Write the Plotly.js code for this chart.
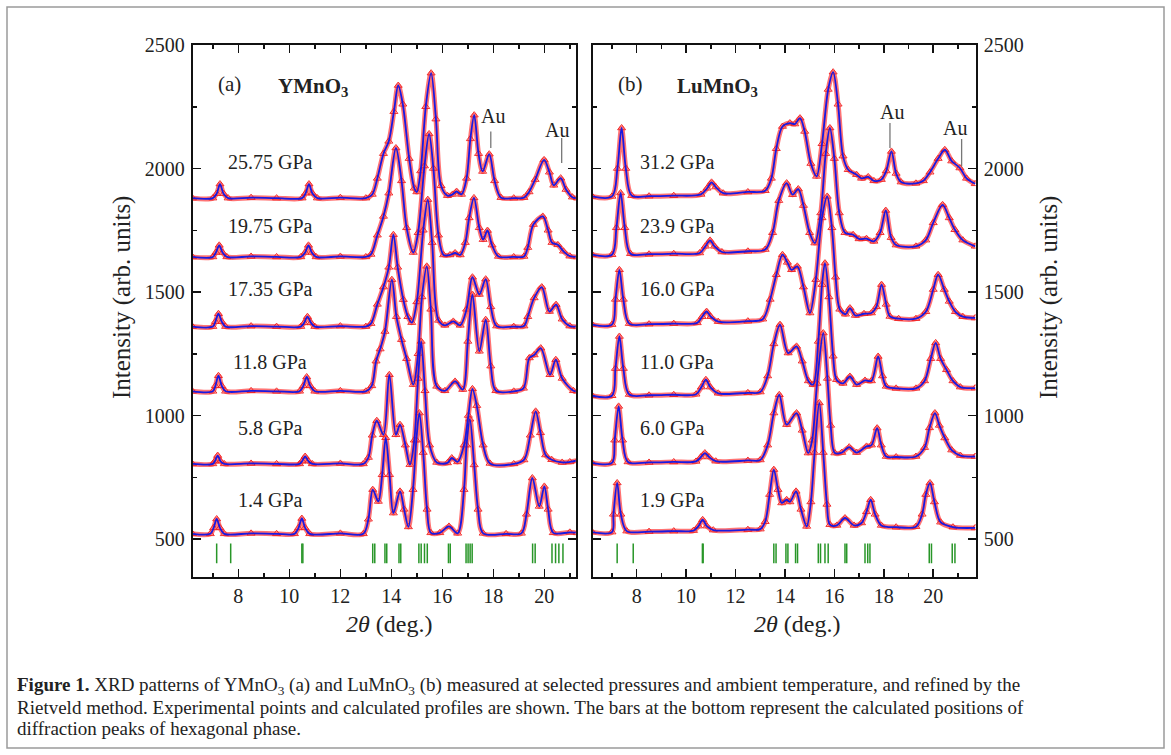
<!DOCTYPE html>
<html><head><meta charset="utf-8">
<script src="https://cdn.plot.ly/plotly-3.0.1.min.js"></script>
<style>html,body{margin:0;padding:0;background:#fff}#chart{width:1171px;height:755px}</style>
</head><body><div id="chart"></div>
<script>
// ---------- DATA ----------
// Panel (a) YMnO3
const ym2575_x = [6.2,7.0,7.15,7.28,7.42,7.6,8.5,9.5,10.5,10.64,10.77,10.9,11.1,12.0,13.0,13.25,13.45,13.69,13.9,14.1,14.27,14.45,14.7,14.9,15.0,15.15,15.35,15.56,15.75,15.95,16.2,16.4,16.56,16.75,16.95,17.1,17.25,17.42,17.58,17.84,18.05,18.3,18.8,19.2,19.4,19.64,19.99,20.2,20.37,20.64,20.85,21.1,21.3];
const ym2575_y = [1880,1880,1898,1937,1898,1880,1882,1880,1880,1900,1937,1900,1880,1882,1880,1895,1960,2060,2110,2230,2336,2260,2040,1920,1905,1990,2250,2386,2200,1930,1890,1895,1907,1895,1960,2120,2216,2060,1988,2058,1950,1882,1880,1882,1905,1955,2035,1985,1932,1961,1915,1884,1880];
const ym1975_x = [6.2,7.0,7.12,7.25,7.38,7.55,8.5,9.5,10.45,10.62,10.75,10.88,11.05,12.0,13.0,13.2,13.45,13.69,13.9,14.18,14.4,14.6,14.86,15.05,15.3,15.48,15.65,15.85,16.05,16.3,16.5,16.7,16.9,17.05,17.24,17.45,17.6,17.77,17.95,18.2,18.8,19.2,19.35,19.57,19.94,20.15,20.3,20.53,20.75,21.0,21.3];
const ym1975_y = [1642,1642,1660,1689,1660,1642,1644,1642,1642,1660,1689,1660,1642,1644,1642,1652,1730,1806,1900,2083,1950,1760,1660,1740,2010,2140,2000,1730,1650,1650,1658,1650,1700,1800,1881,1760,1712,1749,1690,1644,1642,1644,1680,1773,1806,1750,1700,1691,1665,1645,1642];
const ym1735_x = [6.2,7.0,7.1,7.22,7.35,7.5,8.5,9.5,10.45,10.58,10.71,10.85,11.0,12.0,13.0,13.2,13.45,13.69,13.9,14.08,14.25,14.47,14.65,14.8,15.0,15.25,15.43,15.6,15.85,16.1,16.43,16.7,16.95,17.18,17.45,17.7,17.9,18.13,18.8,19.2,19.35,19.6,19.9,20.2,20.46,20.7,21.0,21.3];
const ym1735_y = [1360,1360,1380,1412,1380,1360,1362,1360,1360,1375,1400,1375,1360,1362,1360,1372,1450,1520,1600,1732,1600,1469,1400,1376,1460,1750,1874,1700,1385,1365,1381,1365,1430,1560,1490,1552,1440,1362,1360,1362,1400,1476,1520,1421,1449,1390,1362,1360];
const ym118_x = [6.2,7.0,7.1,7.22,7.35,7.5,8.5,9.5,10.4,10.55,10.68,10.82,11.0,12.0,13.0,13.23,13.4,13.56,13.75,14.02,14.2,14.4,14.6,14.86,15.05,15.2,15.39,15.55,15.78,16.1,16.5,16.8,17.0,17.18,17.45,17.7,17.9,18.1,18.8,19.18,19.41,19.6,19.86,20.22,20.45,20.7,21.14,21.3];
const ym118_y = [1098,1098,1120,1161,1120,1098,1100,1098,1098,1120,1156,1120,1098,1100,1098,1120,1220,1269,1340,1550,1400,1307,1230,1125,1250,1480,1604,1430,1118,1100,1138,1105,1300,1490,1260,1388,1200,1100,1098,1110,1233,1245,1273,1165,1226,1150,1100,1098];
const ym58_x = [6.2,7.0,7.08,7.19,7.3,7.45,8.5,9.5,10.4,10.5,10.62,10.75,10.9,12.0,12.9,13.1,13.25,13.43,13.69,13.92,14.18,14.34,14.55,14.73,14.9,15.05,15.17,15.32,15.5,15.78,16.2,16.37,16.6,16.85,17.02,17.18,17.35,17.6,17.87,18.8,19.2,19.45,19.66,19.85,20.05,20.29,20.7,21.0,21.3];
const ym58_y = [804,804,815,838,815,804,806,804,804,815,834,815,804,806,804,830,920,979,922,1165,922,963,880,801,900,1150,1300,1100,880,810,808,828,812,880,1000,1108,1040,880,806,804,820,920,1017,930,840,821,810,812,818];
const ym14_x = [6.2,6.9,7.03,7.15,7.28,7.45,8.5,9.5,10.2,10.36,10.49,10.62,10.8,12.0,12.9,13.1,13.27,13.49,13.64,13.78,13.93,14.08,14.34,14.5,14.67,14.85,14.98,15.1,15.25,15.4,15.55,15.9,16.26,16.6,16.85,16.95,17.08,17.25,17.4,17.6,18.5,19.1,19.3,19.53,19.8,20.0,20.15,20.35,21.0,21.3];
const ym14_y = [521,521,545,581,545,521,523,521,521,545,583,545,521,523,521,580,700,652,760,910,760,605,693,620,549,700,900,1010,850,620,525,525,551,523,700,880,985,800,620,523,521,523,600,747,632,713,620,525,527,525];

// Panel (b) LuMnO3
const lu312_x = [6.2,7.0,7.22,7.39,7.56,7.8,8.5,9.5,10.6,10.85,11.03,11.2,11.5,12.5,13.2,13.45,13.65,13.9,14.2,14.4,14.61,14.8,15.05,15.28,15.5,15.75,15.95,16.15,16.35,16.56,16.9,17.1,17.37,17.6,17.9,18.1,18.31,18.5,18.7,19.3,19.6,19.87,20.2,20.47,20.75,21.08,21.35,21.7];
const lu312_y = [1887,1887,2000,2164,2000,1890,1888,1890,1895,1920,1944,1925,1900,1905,1910,1960,2080,2170,2184,2180,2204,2150,2020,1968,2100,2320,2390,2260,2050,1995,1975,1960,1966,1950,1955,1990,2069,1980,1945,1940,1950,1985,2040,2076,2030,2002,1960,1938];
const lu239_x = [6.2,7.0,7.18,7.35,7.52,7.75,8.5,9.5,10.55,10.78,10.97,11.15,11.45,12.5,13.2,13.5,13.75,14.07,14.31,14.54,14.75,15.0,15.21,15.45,15.65,15.82,16.0,16.2,16.43,16.76,17.0,17.3,17.6,17.85,18.08,18.3,18.5,19.3,19.7,20.0,20.38,20.65,20.88,21.2,21.7];
const lu239_y = [1651,1651,1760,1901,1760,1655,1653,1655,1658,1685,1709,1685,1662,1665,1672,1740,1870,1941,1894,1917,1850,1740,1698,1820,2060,2164,2040,1820,1740,1732,1715,1716,1705,1740,1830,1720,1690,1685,1710,1780,1853,1800,1752,1710,1685];
const lu160_x = [6.2,7.0,7.14,7.3,7.46,7.7,8.5,9.5,10.45,10.65,10.83,11.0,11.3,12.5,13.1,13.4,13.65,13.9,14.1,14.27,14.5,14.75,15.01,15.25,15.5,15.71,15.9,16.05,16.22,16.45,16.63,16.85,17.2,17.5,17.7,17.91,18.1,18.25,18.6,19.3,19.7,20.0,20.2,20.45,20.65,20.9,21.2,21.7];
const lu160_y = [1368,1368,1470,1590,1470,1372,1370,1372,1375,1400,1421,1400,1380,1382,1390,1470,1570,1651,1620,1590,1604,1520,1415,1550,1800,1887,1760,1560,1430,1410,1435,1405,1412,1415,1440,1530,1450,1401,1392,1392,1420,1510,1570,1510,1462,1420,1400,1395];
const lu110_x = [6.2,7.0,7.14,7.3,7.46,7.7,8.5,9.5,10.4,10.62,10.8,10.98,11.3,12.5,13.0,13.3,13.55,13.8,14.13,14.47,14.7,14.95,15.14,15.35,15.5,15.62,15.78,15.95,16.09,16.35,16.63,16.9,17.24,17.5,17.77,17.95,18.1,18.5,19.3,19.65,19.9,20.1,20.3,20.54,20.8,21.1,21.7];
const lu110_y = [1080,1080,1190,1320,1190,1085,1082,1084,1086,1115,1145,1115,1090,1092,1095,1160,1290,1368,1253,1280,1220,1140,1125,1300,1530,1617,1480,1240,1145,1130,1158,1125,1142,1140,1239,1160,1118,1110,1110,1140,1230,1294,1230,1185,1140,1115,1111];
const lu60_x = [6.2,7.0,7.11,7.27,7.43,7.65,8.5,9.5,10.4,10.6,10.76,10.93,11.2,12.5,13.0,13.3,13.55,13.77,14.07,14.47,14.7,14.94,15.1,15.3,15.55,15.72,15.85,16.02,16.3,16.6,16.9,17.3,17.5,17.73,17.9,18.1,18.5,19.3,19.65,19.85,20.07,20.25,20.47,20.75,21.1,21.7];
const lu60_y = [808,808,900,1037,900,812,810,812,814,832,848,832,815,818,820,880,1010,1084,963,1010,940,848,900,1130,1334,1150,960,848,850,872,850,875,880,949,880,834,832,834,870,950,1010,960,909,860,838,834];
const lu19_x = [6.2,7.0,7.06,7.21,7.36,7.6,8.5,9.5,10.3,10.5,10.67,10.84,11.1,12.5,13.0,13.2,13.38,13.55,13.72,13.87,14.07,14.2,14.45,14.65,14.88,15.05,15.2,15.39,15.55,15.7,15.82,16.1,16.43,16.8,17.1,17.3,17.47,17.65,17.9,18.5,19.3,19.55,19.7,19.87,20.05,20.3,20.8,21.7];
const lu19_y = [528,528,600,727,600,532,530,532,534,552,578,552,536,538,540,570,680,781,700,646,659,650,693,620,551,650,850,1051,850,640,558,555,585,555,565,610,659,600,555,548,550,600,680,727,650,568,548,545];

// Calculated reflection positions (hexagonal phase)
const barsA = [7.15,7.70,10.49,10.53,13.27,13.35,13.75,13.82,14.30,14.37,15.08,15.17,15.30,15.41,16.24,16.31,16.93,17.01,17.09,17.17,19.54,19.64,20.30,20.44,20.57,20.73];
const barsB = [7.21,7.86,10.66,10.69,13.55,13.64,14.04,14.12,14.43,14.51,15.35,15.44,15.62,15.75,16.43,16.50,17.24,17.35,17.44,19.84,19.93,20.77,20.88];

// Labels
const pressuresA = ['25.75 GPa','19.75 GPa','17.35 GPa','11.8 GPa','5.8 GPa','1.4 GPa'];
const pressuresB = ['31.2 GPa','23.9 GPa','16.0 GPa','11.0 GPa','6.0 GPa','1.9 GPa'];
const auA = [[17.90,2083,2150],[20.68,2022,2123]];
const auB = [[18.25,2083,2184],[21.15,2008,2119]];
const captionLines = [
  '<b>Figure 1.</b> XRD patterns of YMnO<sub>3</sub> (a) and LuMnO<sub>3</sub> (b) measured at selected pressures and ambient temperature, and refined by the',
  'Rietveld method. Experimental points and calculated profiles are shown. The bars at the bottom represent the calculated positions of',
  'diffraction peaks of hexagonal phase.'
];

// ---------- BUILD ----------
const W = 1171, H = 755;
const px = v => v / W, py = v => 1 - v / H;
const patternsA = [[ym2575_x,ym2575_y],[ym1975_x,ym1975_y],[ym1735_x,ym1735_y],[ym118_x,ym118_y],[ym58_x,ym58_y],[ym14_x,ym14_y]];
const patternsB = [[lu312_x,lu312_y],[lu239_x,lu239_y],[lu160_x,lu160_y],[lu110_x,lu110_y],[lu60_x,lu60_y],[lu19_x,lu19_y]];

const traces = [];
function addPatterns(list, xa, ya) {
  list.forEach(p => {
    traces.push({x:p[0], y:p[1], xaxis:xa, yaxis:ya, type:'scatter', mode:'lines+markers', hoverinfo:'skip',
      line:{color:'rgba(255,70,70,0.75)', width:5, shape:'spline', smoothing:0.9},
      marker:{symbol:'triangle-up-open', size:7, color:'rgba(240,30,30,0.9)', line:{width:1}}});
  });
  list.forEach(p => {
    traces.push({x:p[0], y:p[1], xaxis:xa, yaxis:ya, type:'scatter', mode:'lines', hoverinfo:'skip',
      line:{color:'rgb(25,25,225)', width:1.8, shape:'spline', smoothing:0.9}});
  });
}
addPatterns(patternsA, 'x', 'y');
addPatterns(patternsB, 'x2', 'y2');
const BAR_Y = 442;
[[barsA,'x','y'],[barsB,'x2','y2']].forEach(b => {
  traces.push({x:b[0], y:b[0].map(() => BAR_Y), xaxis:b[1], yaxis:b[2], type:'scatter', mode:'markers', hoverinfo:'skip',
    marker:{symbol:'line-ns', size:14, color:'rgb(40,150,40)', line:{width:1.5, color:'rgb(40,150,40)'}}});
});

const FAM = 'Liberation Serif, Times New Roman, serif';
const tickFont = {family:FAM, size:20, color:'#222'};
function xAx(domain, range, anchor) {
  return {domain, range, anchor, tick0:0, dtick:2, ticks:'inside', ticklen:8, tickwidth:1.5, tickcolor:'#111',
    minor:{dtick:1, tick0:0, ticks:'inside', ticklen:4, tickwidth:1.5, tickcolor:'#111'},
    showline:true, linewidth:2, linecolor:'#111', mirror:'ticks', showgrid:false, zeroline:false, tickfont:tickFont, ticklabelstandoff:0};
}
function yAx(domain, anchor, side) {
  return {domain, range:[345,2500], anchor, side, tick0:0, dtick:500, ticks:'inside', ticklen:8, tickwidth:1.5, tickcolor:'#111',
    minor:{dtick:250, tick0:0, ticks:'inside', ticklen:4, tickwidth:1.5, tickcolor:'#111'},
    showline:true, linewidth:2, linecolor:'#111', mirror:'ticks', showgrid:false, zeroline:false, tickfont:tickFont, ticklabelstandoff:2};
}
const yDom = [py(577.3), py(45)];
const layout = {
  width:W, height:H, margin:{l:0,r:0,t:0,b:0}, paper_bgcolor:'#fff', plot_bgcolor:'#fff', showlegend:false,
  font:{family:FAM, color:'#222'},
  xaxis: xAx([px(192.7), px(575.7)], [6.21, 21.23], 'y'),
  yaxis: yAx(yDom, 'x', 'left'),
  xaxis2: xAx([px(592.7), px(975.7)], [6.22, 21.72], 'y2'),
  yaxis2: yAx(yDom, 'x2', 'right'),
  shapes: [], annotations: []
};
// outer figure frame
layout.shapes.push({type:'rect', xref:'paper', yref:'paper', x0:px(7), x1:px(1164), y0:py(748), y1:py(7), line:{color:'#9a9a9a', width:1.5}});
// Au markers
auA.forEach(a => layout.shapes.push({type:'line', xref:'x', yref:'y', x0:a[0], x1:a[0], y0:a[1], y1:a[2], line:{color:'#777', width:1.3}}));
auB.forEach(a => layout.shapes.push({type:'line', xref:'x2', yref:'y2', x0:a[0], x1:a[0], y0:a[1], y1:a[2], line:{color:'#777', width:1.3}}));
const ann = (o) => layout.annotations.push(Object.assign({showarrow:false, xref:'paper', yref:'paper', xanchor:'center', yanchor:'middle', font:{size:20, color:'#222', family:FAM}}, o));
ann({text:'Au', x:px(493), y:py(116)});
ann({text:'Au', x:px(557), y:py(130)});
ann({text:'Au', x:px(892), y:py(112)});
ann({text:'Au', x:px(955), y:py(128)});
// pressure labels
const rowPy = [162, 226, 289, 362, 428, 500];
pressuresA.forEach((t,i) => ann({text:t, x:px(270), y:py(rowPy[i])}));
pressuresB.forEach((t,i) => ann({text:t, x:px(638), y:py(rowPy[i]), xanchor:'left'}));
// panel labels
ann({text:'(a)', x:px(216), y:py(84), xanchor:'left', font:{size:21, color:'#222', family:FAM}});
ann({text:'<b>YMnO<sub>3</sub></b>', x:px(276), y:py(87), xanchor:'left', font:{size:21, color:'#222', family:FAM}});
ann({text:'(b)', x:px(616), y:py(84), xanchor:'left', font:{size:21, color:'#222', family:FAM}});
ann({text:'<b>LuMnO<sub>3</sub></b>', x:px(675), y:py(87), xanchor:'left', font:{size:21, color:'#222', family:FAM}});
// axis titles
ann({text:'Intensity (arb. units)', x:px(122), y:py(298), textangle:-90, font:{size:25, color:'#222', family:FAM}});
ann({text:'Intensity (arb. units)', x:px(1049), y:py(298), textangle:-90, font:{size:25, color:'#222', family:FAM}});
ann({text:'<i>2θ</i> (deg.)', x:px(389), y:py(624), font:{size:24, color:'#222', family:FAM}});
ann({text:'<i>2θ</i> (deg.)', x:px(797), y:py(624), font:{size:24, color:'#222', family:FAM}});
// caption
const capPy = [686, 707, 728];
captionLines.forEach((t,i) => ann({text:t, x:px(15), y:py(capPy[i]), xanchor:'left', font:{size:19, color:'#222', family:FAM}}));

Plotly.newPlot('chart', traces, layout, {staticPlot:true, displayModeBar:false});
</script></body></html>
